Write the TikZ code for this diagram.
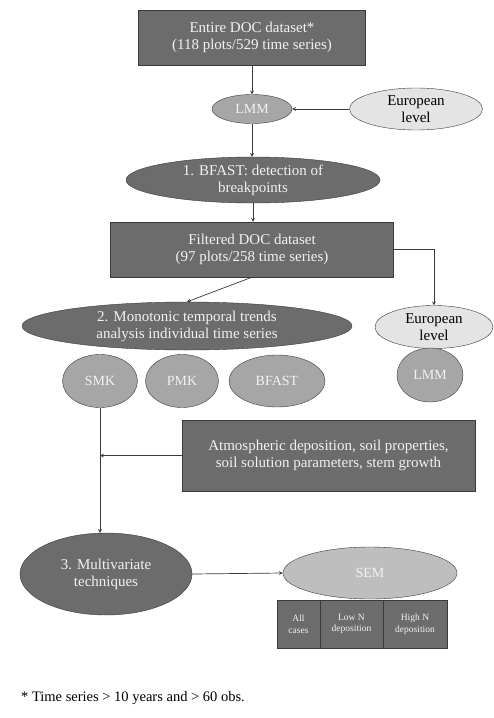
\documentclass[tikz,border=0pt]{standalone}
\usepackage{fontspec}
\setmainfont{Liberation Serif}
\usetikzlibrary{arrows}
\usetikzlibrary{shapes.geometric}
\definecolor{darkfill}{HTML}{6C6C6C}
\definecolor{midfill}{HTML}{A6A6A6}
\definecolor{lightfill}{HTML}{BEBEBE}
\definecolor{palefill}{HTML}{E4E4E4}
\definecolor{edgecol}{HTML}{3A3A3A}
\definecolor{lighttext}{HTML}{F2F2F2}
\tikzset{
  darkbox/.style={draw=edgecol, fill=darkfill, text=lighttext, align=center,
    inner sep=0pt, font=\fontsize{15}{17}\selectfont},
  darkoval/.style={ellipse, draw=edgecol, fill=darkfill, text=lighttext, align=center,
    inner sep=-2pt, font=\fontsize{15}{17}\selectfont},
  midoval/.style={ellipse, draw=edgecol, fill=midfill, text=lighttext, align=center,
    inner sep=-2pt, font=\fontsize{14}{16}\selectfont},
  paleoval/.style={ellipse, draw=edgecol, fill=palefill, text=black, align=center,
    inner sep=-4pt, font=\fontsize{15}{16.5}\selectfont},
  cellbox/.style={draw=edgecol, fill=darkfill, text=lighttext, align=center,
    inner sep=0pt, minimum height=48pt, font=\fontsize{9.5}{11.5}\selectfont},
  link/.style={draw=edgecol, line width=0.7pt},
}
\begin{document}
\begin{tikzpicture}[x=1pt, y=-1pt, >=stealth]
  \useasboundingbox[fill=white] (0,0) rectangle (493,718);
  % upper part: whole data set
  \node[darkbox, minimum width=227pt, minimum height=55pt] (entire) at (252,37.5)
    {Entire DOC dataset*\\(118 plots/529 time series)};
  \node[midoval, minimum width=80pt, minimum height=29pt] (lmmA) at (252,109) {LMM};
  \node[paleoval, minimum width=133pt, minimum height=42pt] (euroA) at (416,109) {European\\level};
  \node[darkoval, minimum width=254pt, minimum height=46pt] (bfastA) at (253,180)
    {1. BFAST: detection of\\breakpoints};
  \node[darkbox, minimum width=283pt, minimum height=55pt] (filtered) at (252,249.5)
    {Filtered DOC dataset\\(97 plots/258 time series)};
  \draw[link,->] (entire.south) -- (lmmA.north);
  \draw[link,->] (euroA.west) -- (lmmA.east);
  \draw[link,->] (lmmA.south) -- (lmmA.south |- bfastA.north);
  \draw[link,->] (bfastA.south) -- (bfastA.south |- filtered.north);
  % trends
  \node[darkoval, minimum width=330pt, minimum height=48pt] (mono) at (187,326)
    {2. Monotonic temporal trends\\analysis individual time series};
  \node[paleoval, minimum width=118pt, minimum height=43pt] (euroB) at (434,327) {European\\level};
  \node[midoval, minimum width=66pt, minimum height=54pt] (lmmB) at (430,375) {LMM};
  \node[midoval, minimum width=75pt, minimum height=53pt] (smk) at (100,381) {SMK};
  \node[midoval, minimum width=73pt, minimum height=53pt] (pmk) at (182,381) {PMK};
  \node[midoval, minimum width=96pt, minimum height=52pt] (bfastB) at (277,381) {BFAST};
  \draw[link,->] (filtered.south) -- (mono.north);
  \draw[link,->] (filtered.east) -| (euroB.north);
  % drivers and multivariate step
  \node[darkbox, minimum width=293pt, minimum height=71pt] (atmos) at (328.5,455.5)
    {Atmospheric deposition, soil properties,\\soil solution parameters, stem growth};
  \node[darkoval, minimum width=172pt, minimum height=82pt] (multi) at (106,574)
    {3. Multivariate\\techniques};
  \node[ellipse, draw=edgecol, fill=lightfill, text=lighttext,
    font=\fontsize{14}{16}\selectfont, minimum width=174pt, minimum height=52pt] (sem) at (370,573) {SEM};
  \node[cellbox, minimum width=43pt] (allcases) at (298.5,624) {All\\cases};
  \node[cellbox, minimum width=63pt] (lowN) at (351.5,624) {Low N\\deposition};
  \node[cellbox, minimum width=64pt] (highN) at (415,624) {High N\\deposition};
  \draw[link,->] (smk.south) -- (smk.south |- multi.north);
  \draw[link,->] (atmos.west) -- (atmos.west -| smk.south);
  \draw[link,->] (multi.east) -- (sem.west);
  % footnote
  \node[anchor=west, inner sep=0pt, font=\fontsize{14.5}{16}\selectfont] (note) at (21,698)
    {* Time series > 10 years and > 60 obs.};
\end{tikzpicture}
\end{document}
